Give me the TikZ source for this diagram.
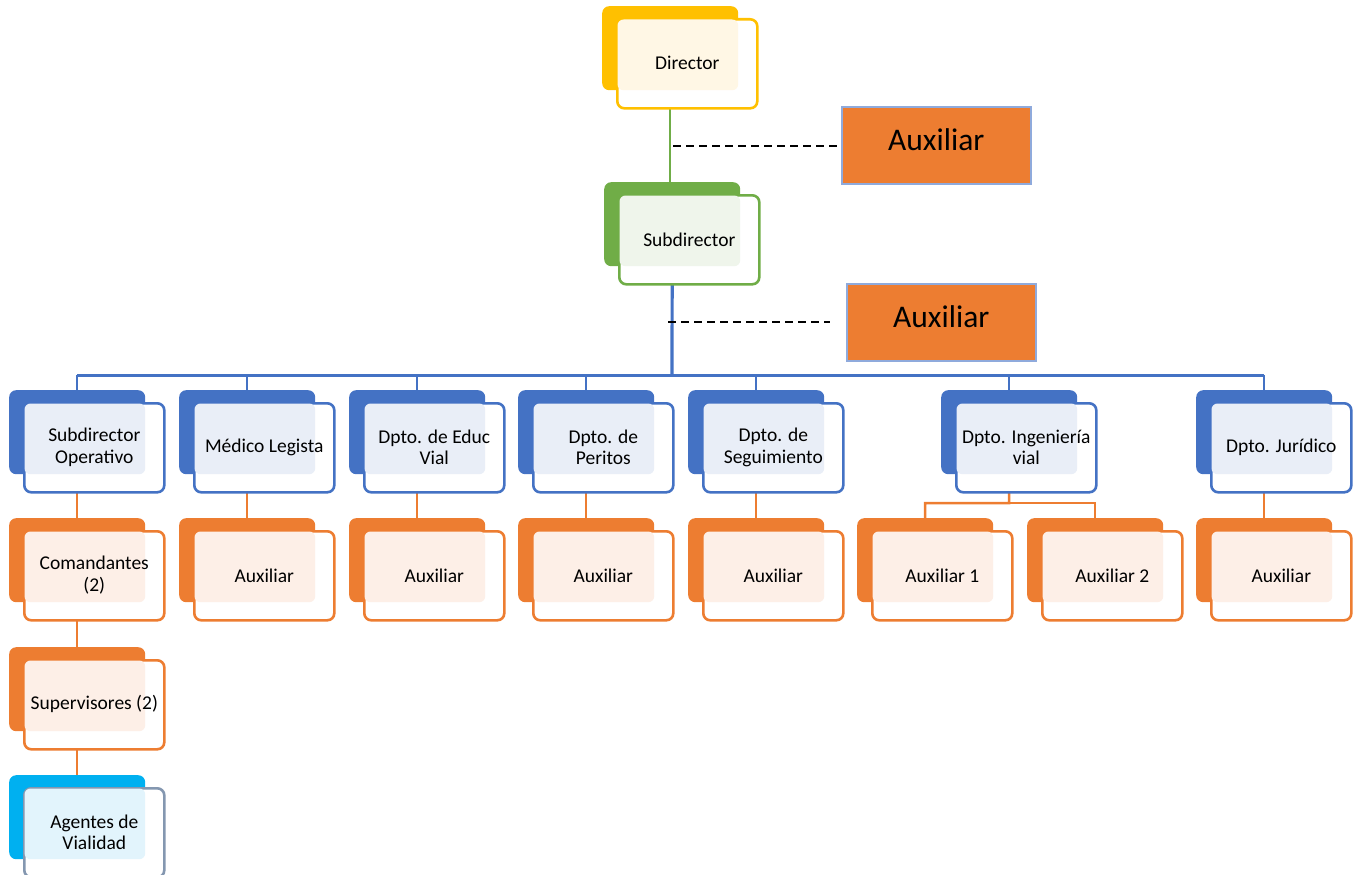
\documentclass[tikz,border=0pt]{standalone}
\usepackage{fontspec}
\setmainfont{Carlito}
\usetikzlibrary{calc}
\pgfdeclarelayer{background}
\pgfsetlayers{background,main}
\definecolor{blueD}{HTML}{4472C4}
\definecolor{blueL}{HTML}{E9EEF7}
\definecolor{orangeD}{HTML}{ED7D31}
\definecolor{orangeL}{HTML}{FDEFE7}
\definecolor{yellowD}{HTML}{FFC000}
\definecolor{yellowL}{HTML}{FFF7E5}
\definecolor{greenD}{HTML}{70AD47}
\definecolor{greenL}{HTML}{EFF5EB}
\definecolor{cyanD}{HTML}{00B0F0}
\definecolor{cyanL}{HTML}{E2F4FC}
\definecolor{grayB}{HTML}{8497B0}
\definecolor{auxB}{HTML}{8FAADC}
\tikzset{
  backbox/.style={anchor=north west, minimum width=136pt, minimum height=84pt, inner sep=0pt, rounded corners=7pt},
  frontbox/.style={anchor=north west, minimum width=140pt, minimum height=89pt, inner sep=0pt, rounded corners=7pt, fill=white, line width=2.6pt},
  lightbox/.style={anchor=north west, minimum width=120.7pt, minimum height=70.7pt, inner sep=0pt, rounded corners=6pt},
  boxtext/.style={align=center, font=\fontsize{19.5}{21.5}\selectfont, inner sep=0pt},
  auxbig/.style={anchor=north west, fill=orangeD, draw=auxB, line width=1.6pt, inner sep=0pt, minimum width=189pt, minimum height=77pt},
  auxtext/.style={inner sep=0pt, font=\fontsize{31.5}{36}\selectfont},
  conn/.style={line width=2.5pt},
  dashconn/.style={line width=1.8pt, dash pattern=on 8pt off 5pt},
}
\newcommand\orgbox[7]{%
  \node[backbox, fill=#4] (#1b) at (#2,#3) {};
  \node[frontbox, draw=#6] (#1) at ($(#1b.north west)+(14,12)$) {};
  \node[lightbox, fill=#5] (#1l) at ($(#1.north west)+(1.3,1.3)$) {};
  \node[boxtext] (#1t) at ($(#1.center)+(0,-0.5)$) {#7};
}
\begin{document}
\begin{tikzpicture}[x=1pt, y=-1pt]
\useasboundingbox (0,0) rectangle (1357,875);
% top levels
\orgbox{dir}{602}{6}{yellowD}{yellowL}{yellowD}{Director}
\orgbox{sub}{604}{182}{greenD}{greenL}{greenD}{Subdirector}
% auxiliaries
\node[auxbig] (aux1) at (841,106) {};
\node[auxtext] (aux1t) at ($(aux1.center)+(0,-6)$) {Auxiliar};
\node[auxbig] (aux2) at (846,283) {};
\node[auxtext] (aux2t) at ($(aux2.center)+(0,-6)$) {Auxiliar};
% second level
\orgbox{sop}{9}{390}{blueD}{blueL}{blueD}{Subdirector\\Operativo}
\orgbox{med}{179}{390}{blueD}{blueL}{blueD}{Médico Legista}
\orgbox{edu}{349}{390}{blueD}{blueL}{blueD}{Dpto. de Educ\\Vial}
\orgbox{per}{518}{390}{blueD}{blueL}{blueD}{Dpto. de\\Peritos}
\orgbox{seg}{688}{390}{blueD}{blueL}{blueD}{Dpto. de\\Seguimiento}
\orgbox{ing}{941}{390}{blueD}{blueL}{blueD}{Dpto. Ingeniería\\vial}
\orgbox{jur}{1196}{390}{blueD}{blueL}{blueD}{Dpto. Jurídico}
% third level
\orgbox{com}{9}{518}{orangeD}{orangeL}{orangeD}{Comandantes\\(2)}
\orgbox{amed}{179}{518}{orangeD}{orangeL}{orangeD}{Auxiliar}
\orgbox{aedu}{349}{518}{orangeD}{orangeL}{orangeD}{Auxiliar}
\orgbox{aper}{518}{518}{orangeD}{orangeL}{orangeD}{Auxiliar}
\orgbox{aseg}{688}{518}{orangeD}{orangeL}{orangeD}{Auxiliar}
\orgbox{aone}{857}{518}{orangeD}{orangeL}{orangeD}{Auxiliar 1}
\orgbox{atwo}{1027}{518}{orangeD}{orangeL}{orangeD}{Auxiliar 2}
\orgbox{ajur}{1196}{518}{orangeD}{orangeL}{orangeD}{Auxiliar}
% fourth and fifth levels
\orgbox{sup}{9}{647}{orangeD}{orangeL}{orangeD}{Supervisores (2)}
\orgbox{age}{9}{775}{cyanD}{cyanL}{grayB}{Agentes de\\Vialidad}
% connector helper coordinates
\coordinate (bus) at (672,375);
\coordinate (ingj) at (1009,503);
\coordinate (d1) at (673,146);
\coordinate (d2s) at (668,322);
\coordinate (d2e) at (830,322);
\begin{pgfonlayer}{background}
  \draw[conn, greenD] (dirb.south) -- (dirb.south |- subb.north);
  \draw[line width=3.2pt, blueD] (subb.south) -- (bus);
  \draw[line width=3pt, blueD] (sopb.north |- bus) -- (jurb.north |- bus);
  \foreach \n in {sop,med,edu,per,seg,ing,jur}
    \draw[conn, blueD] (bus -| \n b.north) -- (\n b.north);
  \foreach \p/\c in {sop/com,med/amed,edu/aedu,per/aper,seg/aseg,jur/ajur,com/sup,sup/age}
    \draw[conn, orangeD] (\p b.south) -- (\p b.south |- \c b.north);
  \draw[conn, orangeD] (ingb.south) -- (ingj) -| (aoneb.north);
  \draw[conn, orangeD] (ingj) -| (atwob.north);
\end{pgfonlayer}
\draw[dashconn] (d1) -- (d1 -| aux1.west);
\draw[dashconn] (d2s) -- (d2e);
\end{tikzpicture}
\end{document}
